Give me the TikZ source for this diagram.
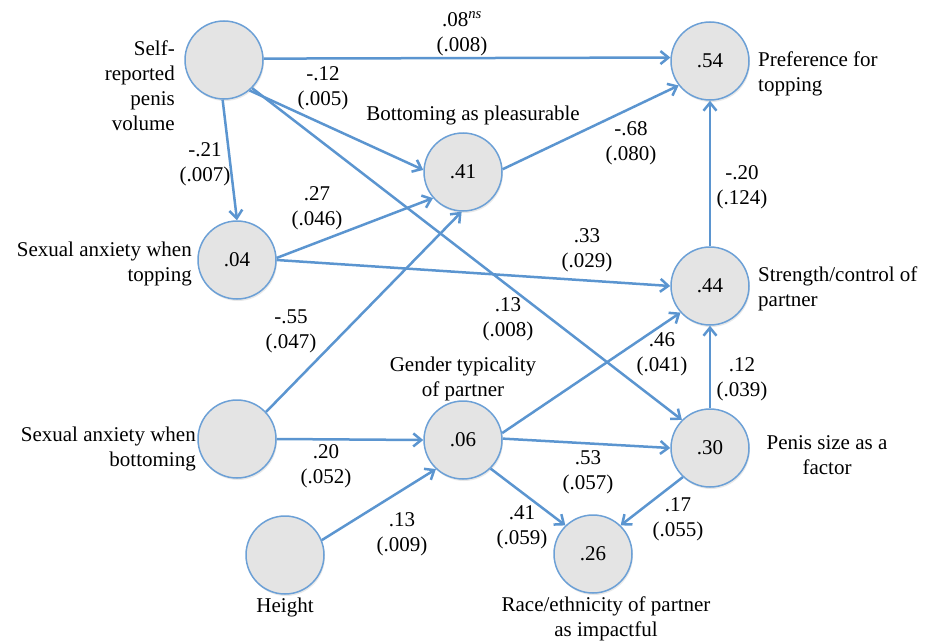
\documentclass[tikz,border=0pt]{standalone}
\usepackage{fontspec}
\setmainfont{Liberation Serif}
\usetikzlibrary{arrows.meta,shadows}
\definecolor{edgeblue}{HTML}{5B95D0}
\definecolor{circblue}{HTML}{6CA0D6}
\definecolor{circfill}{HTML}{E4E4E4}
\begin{document}
\begin{tikzpicture}[x=1pt,y=-1pt,
  font=\fontsize{21pt}{25pt}\selectfont,
  var/.style={circle, draw=circblue, line width=1.5pt, fill=circfill,
    minimum size=78pt, inner sep=0pt,
    drop shadow={opacity=0.18, shadow xshift=1pt, shadow yshift=-2pt}},
  arr/.style={draw=edgeblue, line width=2.5pt,
    -{Straight Barb[length=8pt,width=13pt]}},
  coef/.style={align=center, inner sep=0pt},
  lbl/.style={inner sep=0pt}]
\useasboundingbox (0,0) rectangle (934,642);
% variables
\node[var] (self) at (224,60) {};
\node[var] (n54) at (710,61) {.54};
\node[var] (n41) at (463,172) {.41};
\node[var] (n04) at (237,260) {.04};
\node[var] (n44) at (710,286) {.44};
\node[var] (sab) at (237,439) {};
\node[var] (n06) at (463,440) {.06};
\node[var] (n30) at (710,448) {.30};
\node[var] (hgt) at (285,555) {};
\node[var] (n26) at (593,554) {.26};
% variable labels
\node[lbl, align=right, anchor=east] (tself) at (175,86) {Self-\\reported\\penis\\volume};
\node[lbl, align=right, anchor=east] (tsat) at (192,264) {Sexual anxiety when\\topping};
\node[lbl, align=right, anchor=east] (tsab) at (196,449) {Sexual anxiety when\\bottoming};
\node[lbl] (tbot) at (473,115) {Bottoming as pleasurable};
\node[lbl, align=left, anchor=west] (tpref) at (758,74) {Preference for\\topping};
\node[lbl, align=left, anchor=west] (tstr) at (758,289) {Strength/control of\\partner};
\node[lbl, align=center] (tgen) at (463,379) {Gender typicality\\of partner};
\node[lbl, align=center] (tpen) at (827,455) {Penis size as a\\factor};
\node[lbl] (thgt) at (285,607) {Height};
\node[lbl, align=center] (trace) at (606,619) {Race/ethnicity of partner\\as impactful};
% paths
\draw[arr] (self.2) -- (n54.175);
\draw[arr] (self.-50) -- (n41.177);
\draw[arr] (self.-45) -- (n30.135);
\draw[arr] (self.-92) -- (n04.90);
\draw[arr] (n04.3) -- (n41.221);
\draw[arr] (n04.0) -- (n44.180);
\draw[arr] (sab.43) -- (n41.268);
\draw[arr] (sab.0) -- (n06.180);
\draw[arr] (hgt.22) -- (n06.227);
\draw[arr] (n06.10) -- (n44.222);
\draw[arr] (n06.2) -- (n30.180);
\draw[arr] (n06.-46) -- (n26.134);
\draw[arr] (n30.227) -- (n26.46);
\draw[arr] (n30.90) -- (n44.270);
\draw[arr] (n44.90) -- (n54.270);
\draw[arr] (n41.4) -- (n54.218);
% coefficients
\node[coef] (c1) at (462,34) {.08\textsuperscript{\itshape ns}\\(.008)};
\node[coef] (c2) at (323,88) {-.12\\(.005)};
\node[coef] (c3) at (205,164) {-.21\\(.007)};
\node[coef] (c4) at (317,208) {.27\\(.046)};
\node[coef] (c5) at (291,331) {-.55\\(.047)};
\node[coef] (c6) at (326,466) {.20\\(.052)};
\node[coef] (c7) at (402,534) {.13\\(.009)};
\node[coef] (c8) at (631,143) {-.68\\(.080)};
\node[coef] (c9) at (742,187) {-.20\\(.124)};
\node[coef] (c10) at (587,250) {.33\\(.029)};
\node[coef] (c11) at (508,319) {.13\\(.008)};
\node[coef] (c12) at (662,354) {.46\\(.041)};
\node[coef] (c13) at (742,379) {.12\\(.039)};
\node[coef] (c14) at (588,472) {.53\\(.057)};
\node[coef] (c15) at (522,527) {.41\\(.059)};
\node[coef] (c16) at (678,519) {.17\\(.055)};
\end{tikzpicture}
\end{document}
